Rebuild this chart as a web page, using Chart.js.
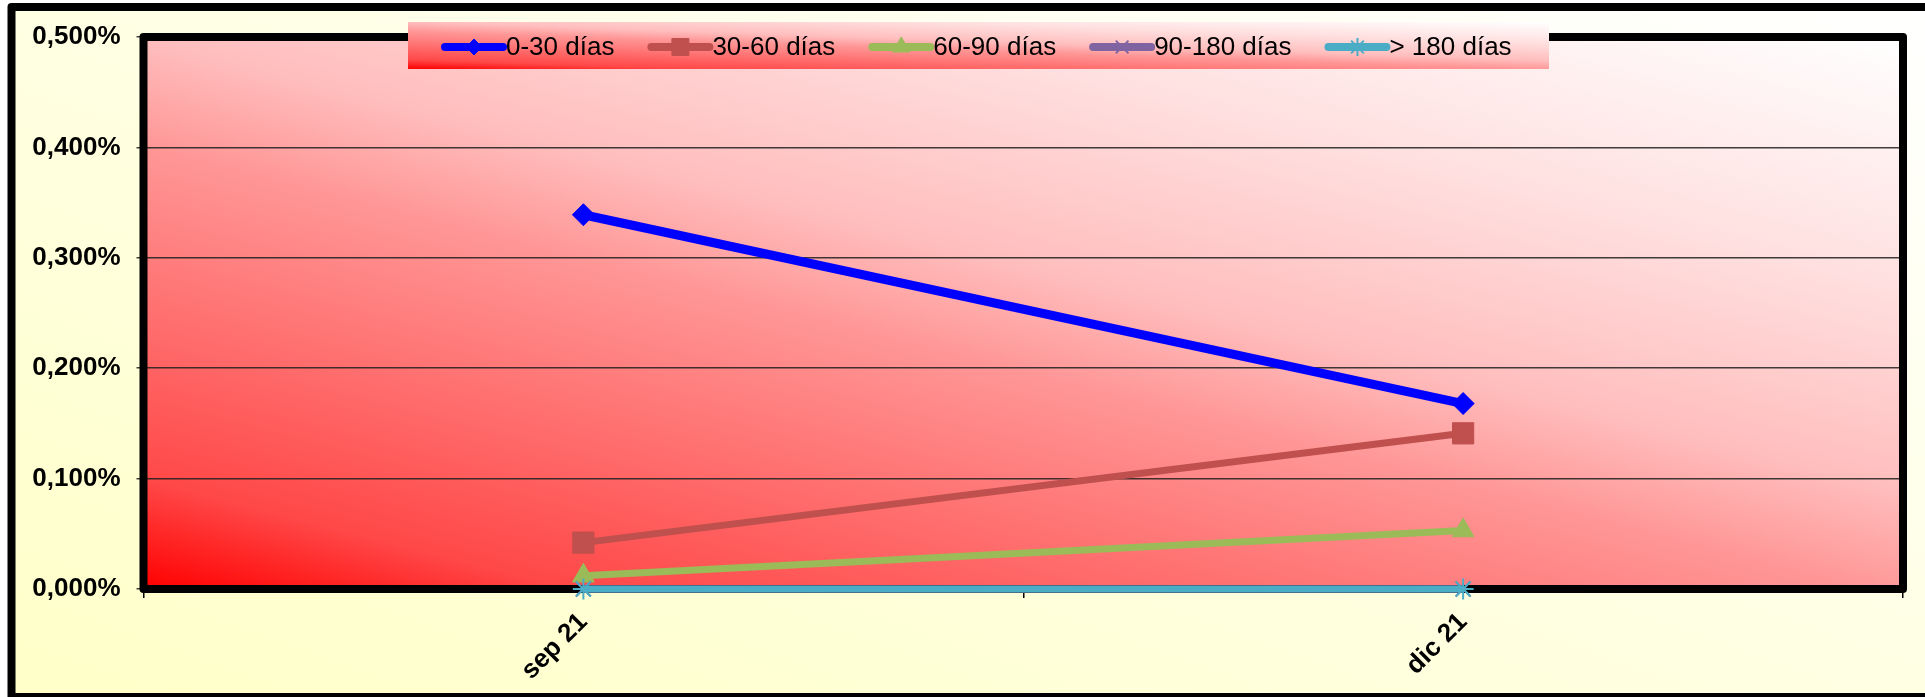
<!DOCTYPE html>
<html lang="es">
<head>
<meta charset="utf-8">
<title>Morosidad por tramos</title>
<script src="https://cdn.jsdelivr.net/npm/chart.js@4.4.1/dist/chart.umd.min.js"></script>
<style>
  html, body { margin: 0; padding: 0; background: #fff; overflow: hidden; }
  canvas { display: block; }
</style>
</head>
<body>
<canvas id="grafico" width="1925" height="697"></canvas>
<script>
// datos (en %)
const categorias = ['sep 21', 'dic 21'];
const nombresSeries = ['0-30 días', '30-60 días', '60-90 días', '90-180 días', '> 180 días'];
const serie0a30 = [0.339, 0.168];
const serie30a60 = [0.042, 0.141];
const serie60a90 = [0.012, 0.053];
const serie90a180 = [0, 0];
const serieMas180 = [0, 0];
const etiquetasY = ['0,000%', '0,100%', '0,200%', '0,300%', '0,400%', '0,500%'];

const colores = ['#0000FF', '#C0504D', '#9BBB59', '#8064A2', '#4BACC6'];
const estilos = ['rectRot', 'rect', 'triangle', 'crossRot', 'star'];
const radios = [11, 15, 12.5, 10.5, 10.5];
const radiosLeyenda = [8, 12, 10, 9, 9];
const grosores = [9, 7, 7, 7, 7];
const valores = [serie0a30, serie30a60, serie60a90, serie90a180, serieMas180];

const fuente = '"Liberation Sans", Arial, sans-serif';

// degradado rojo -> blanco, en coordenadas normalizadas del rectángulo
function rellenoRojo(ctx, x, y, w, h) {
    ctx.save();
    ctx.translate(x, y + h);
    ctx.scale(w, -h);
    const g = ctx.createLinearGradient(0, 0, 0.45 / 0.505, 0.55 / 0.505);
    g.addColorStop(0, 'rgb(255,0,0)');
    g.addColorStop(0.11, 'rgb(255,72,72)');
    g.addColorStop(0.44, 'rgb(255,150,150)');
    g.addColorStop(0.55, 'rgb(255,190,190)');
    g.addColorStop(0.755, 'rgb(255,224,224)');
    g.addColorStop(1, 'rgb(255,255,255)');
    ctx.fillStyle = g;
    ctx.fillRect(0, 0, 1, 1);
    ctx.restore();
}

const fondo = {
    id: 'fondo',
    beforeDraw(chart) {
        const ctx = chart.ctx;
        const W = chart.width, H = chart.height;
        ctx.save();
        ctx.fillStyle = '#fff';
        ctx.fillRect(0, 0, W, H);
        // fondo amarillo
        ctx.translate(12, H);
        ctx.scale(W, -(H - 7));
        const g = ctx.createLinearGradient(0, 0, 1, 1);
        g.addColorStop(0, '#FFFFC8');
        g.addColorStop(1, '#FFFFFF');
        ctx.fillStyle = g;
        ctx.fillRect(0, 0, 1, 1);
        ctx.restore();

        // borde exterior
        ctx.save();
        ctx.strokeStyle = '#000';
        ctx.lineWidth = 8;
        ctx.lineJoin = 'round';
        ctx.strokeRect(11.5, 7, W + 20, H - 7);
        ctx.restore();

        const a = chart.chartArea;
        rellenoRojo(ctx, a.left, a.top, a.right - a.left, a.bottom - a.top);
    },
    beforeDatasetsDraw(chart) {
        const ctx = chart.ctx;
        const a = chart.chartArea;
        ctx.save();
        ctx.strokeStyle = '#000';
        ctx.lineWidth = 8;
        ctx.lineJoin = 'round';
        ctx.strokeRect(a.left, a.top, a.right - a.left, a.bottom - a.top);
        ctx.restore();
    },
    afterDraw(chart) {
        // leyenda
        const ctx = chart.ctx;
        const x0 = 408, y0 = 22, w = 1141, h = 47;
        rellenoRojo(ctx, x0, y0, w, h);
        ctx.save();
        ctx.font = '26px ' + fuente;
        ctx.textBaseline = 'middle';
        const yc = 47;
        let x = 445;
        chart.data.datasets.forEach((ds, i) => {
            ctx.strokeStyle = ds.borderColor;
            ctx.lineWidth = 8;
            ctx.lineCap = 'round';
            ctx.beginPath();
            ctx.moveTo(x, yc);
            ctx.lineTo(x + 58, yc);
            ctx.stroke();
            ctx.fillStyle = ds.borderColor;
            ctx.lineWidth = (i >= 3) ? 2 : 1;
            ctx.lineCap = 'butt';
            Chart.helpers.drawPoint(ctx, {
                pointStyle: ds.pointStyle,
                radius: radiosLeyenda[i],
                rotation: 0,
                borderWidth: ctx.lineWidth
            }, x + 29, yc);
            ctx.fillStyle = '#000';
            ctx.fillText(ds.label, x + 61, yc + 1);
            x += 61 + ctx.measureText(ds.label).width + 37;
        });
        ctx.restore();
    }
};

const datasets = nombresSeries.map((nombre, i) => ({
    label: nombre,
    data: valores[i],
    borderColor: colores[i],
    backgroundColor: colores[i],
    borderWidth: grosores[i],
    pointStyle: estilos[i],
    pointRadius: radios[i],
    pointHoverRadius: radios[i],
    pointBackgroundColor: colores[i],
    pointBorderColor: colores[i],
    pointBorderWidth: i >= 3 ? 2 : 1,
    tension: 0,
    clip: false,
    order: nombresSeries.length - i
}));

new Chart(document.getElementById('grafico'), {
    type: 'line',
    data: { labels: categorias, datasets },
    options: {
        responsive: false,
        devicePixelRatio: 1,
        animation: false,
        layout: { padding: { left: 0, top: 37, right: 22, bottom: 0 } },
        plugins: {
            legend: { display: false },
            tooltip: { enabled: false }
        },
        scales: {
            x: {
                offset: true,
                afterFit(scale) { scale.height = 108; },
                grid: {
                    display: true,
                    drawOnChartArea: false,
                    offset: true,
                    tickLength: 9,
                    color: '#000',
                    lineWidth: 1.5
                },
                border: { display: false },
                ticks: {
                    color: '#000',
                    font: { family: fuente, size: 26, weight: 'bold' },
                    minRotation: 45,
                    maxRotation: 45,
                    padding: 9
                }
            },
            y: {
                min: 0,
                max: 0.5,
                afterFit(scale) { scale.width = 143.5; },
                grid: {
                    color: 'rgba(30,30,30,0.85)',
                    lineWidth: 1.5,
                    tickLength: 7
                },
                border: { display: false },
                ticks: {
                    stepSize: 0.1,
                    color: '#000',
                    padding: 16,
                    font: { family: fuente, size: 26, weight: 'bold' },
                    callback: (v, i) => etiquetasY[i]
                }
            }
        }
    },
    plugins: [fondo]
});
</script>
</body>
</html>
